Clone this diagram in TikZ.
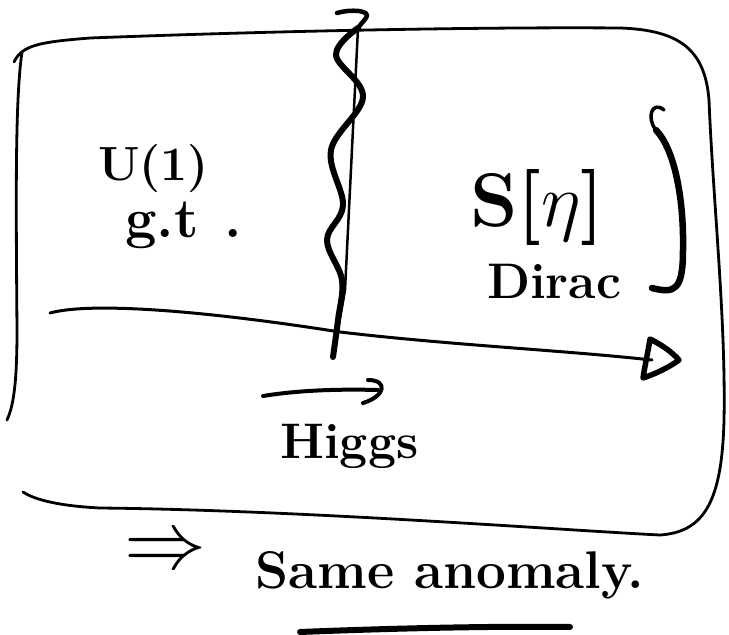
\RequirePackage{fix-cm}
\documentclass[tikz,border=0pt]{standalone}
\begin{document}
\begin{tikzpicture}[x=1pt,y=-1pt,
  ink/.style={line cap=round,line join=round},
  boxline/.style={ink,line width=2.8pt},
  wave/.style={ink,line width=6pt},
  lbl/.style={inner sep=0pt,font=\bfseries}]
\useasboundingbox (0,0) rectangle (729,635);
% hand-drawn frame
\draw[boxline] (14,62) .. controls (22,45) and (40,42) .. (90,38)
  .. controls (300,30) and (500,27) .. (620,28)
  .. controls (680,30) and (705,50) .. (709,100)
  .. controls (713,200) and (726,320) .. (724,420)
  .. controls (722,500) and (705,532) .. (660,535)
  .. controls (560,530) and (300,510) .. (100,508)
  .. controls (60,506) and (35,500) .. (23,492);
\draw[boxline] (22,52) .. controls (15,100) and (16,200) .. (17,330)
  .. controls (17,380) and (14,405) .. (7,420);
% horizontal arrow
\coordinate (a0) at (50,313);
\coordinate (aE) at (652,360);
\draw[ink,line width=3pt] (a0) .. controls (90,302) and (200,310) .. (340,332)
  .. controls (450,345) and (560,350) .. (aE);
\draw[ink,line width=5.5pt] (650,339) .. controls (662,345) and (672,352) .. (679,360)
  .. controls (668,368) and (655,374) .. (643,378)
  .. controls (645,365) and (648,352) .. (650,339) -- cycle;
% vertical line with wave
\coordinate (v0) at (358,28);
\coordinate (v1) at (333,357);
\draw[ink,line width=2.5pt] (v0) -- (345,290) -- (v1);
\draw[ink,line width=4.5pt] (337,13) .. controls (350,9) and (372,10) .. (366,18) .. controls (363,22) and (360,25) .. (v0);
\draw[wave] plot[smooth,tension=0.6] coordinates {(v0) (336,55) (363,97) (331,150) (343,205) (327,240) (342,280) (338,320) (v1)};
% right bracket
\draw[ink,line width=3.5pt] (664,110) .. controls (652,100) and (646,118) .. (656,130);
\draw[ink,line width=6.5pt] (656,130) .. controls (675,150) and (684,200) .. (683,250)
  .. controls (683,290) and (675,294) .. (652,288);
% labels
\node[lbl,anchor=base west] (u1) at (98,180) {\fontsize{48}{52}\selectfont U(1)};
\node[lbl,anchor=base west] (gt) at (125,237) {\fontsize{56}{60}\selectfont g.t\hspace{26pt}.};
\node[lbl,anchor=base west] (seta) at (470,226) {{\fontsize{76}{82}\selectfont S[$\eta$]}};
\node[lbl,anchor=base west] (dirac) at (487,298) {\fontsize{50}{54}\selectfont Dirac};
% Higgs arrow
\coordinate (h0) at (263,396);
\coordinate (h1) at (378,390);
\draw[ink,line width=4pt] (h0) .. controls (300,390) and (340,389) .. (h1);
\draw[ink,line width=4pt] (368,380) .. controls (388,380) and (386,396) .. (363,403);
\node[lbl,anchor=base west] (higgs) at (280,458) {\fontsize{50}{54}\selectfont Higgs};
% conclusion
\node[lbl] (implies) at (165,553) {\fontsize{82}{86}\selectfont $\Rightarrow$};
\node[lbl,anchor=base west] (same) at (255,588) {\fontsize{53}{57}\selectfont Same anomaly.};
\coordinate (u0) at (300,632);
\coordinate (uE) at (570,627);
\draw[ink,line width=6pt] (u0) .. controls (400,628) and (500,626) .. (uE);
\end{tikzpicture}
\end{document}
